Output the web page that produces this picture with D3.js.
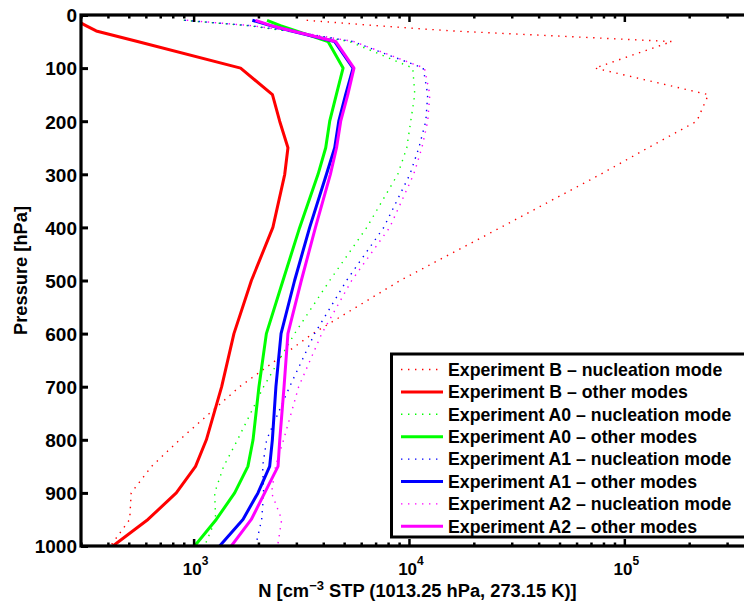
<!DOCTYPE html>
<html>
<head>
<meta charset="utf-8">
<script src="https://cdn.jsdelivr.net/npm/d3@7"></script>
<style>
  html, body { margin: 0; padding: 0; background: #fff; }
  svg { display: block; }
  text { font-family: "Liberation Sans", Arial, Helvetica, sans-serif; font-weight: bold; fill: #000; }
</style>
</head>
<body>
<svg id="chart" width="744" height="602"></svg>
<script>
// ---- data ----
const pressure = [10, 20, 30, 50, 100, 150, 200, 250, 300, 400, 500, 600, 700, 800, 850, 900, 950, 1000];

const bNucleation  = [3350, 7010, 15800, 166000, 73000, 245600, 217000, 129000, 77600, 26700, 9100, 3574, 1636, 861, 638, 513, 505, 411];
const bOther       = [284, 316, 353, 549, 1653, 2323, 2510, 2742, 2649, 2334, 1855, 1539, 1350, 1146, 1021, 831, 614, 422];
const a0Nucleation = [900, 1780, 2700, 5300, 10420, 10640, 10190, 9770, 8870, 6370, 4285, 2944, 2114, 1600, 1379, 1252, 1265, 1125];
const a0Other      = [2193, 2530, 2993, 4209, 4943, 4600, 4285, 4106, 3782, 3109, 2600, 2177, 2011, 1888, 1787, 1551, 1274, 1011];
const a1Nucleation = [908, 1820, 2790, 5480, 11640, 12220, 11970, 11120, 10100, 7640, 5130, 3645, 2792, 2183, 2092, 2114, 2070, 1941];
const a1Other      = [1874, 2275, 2851, 4520, 5500, 5080, 4721, 4520, 4138, 3459, 2944, 2547, 2411, 2321, 2255, 1990, 1695, 1321];
const a2Nucleation = [930, 1850, 2830, 5550, 11800, 12500, 12220, 11480, 10520, 8140, 5420, 3936, 3075, 2618, 2400, 2301, 2564, 2455];
const a2Other      = [1941, 2295, 2880, 4572, 5555, 5200, 4820, 4610, 4315, 3680, 3163, 2741, 2630, 2512, 2466, 2138, 1853, 1497];

const seriesNames = [
  "Experiment B \u2013 nucleation mode",
  "Experiment B \u2013 other modes",
  "Experiment A0 \u2013 nucleation mode",
  "Experiment A0 \u2013 other modes",
  "Experiment A1 \u2013 nucleation mode",
  "Experiment A1 \u2013 other modes",
  "Experiment A2 \u2013 nucleation mode",
  "Experiment A2 \u2013 other modes"
];
const seriesValues = [bNucleation, bOther, a0Nucleation, a0Other, a1Nucleation, a1Other, a2Nucleation, a2Other];
const seriesColors = ["#ff0000", "#ff0000", "#00ff00", "#00ff00", "#0000ff", "#0000ff", "#ff00ff", "#ff00ff"];
const seriesDotted = [true, false, true, false, true, false, true, false];

const yTicks = [0, 100, 200, 300, 400, 500, 600, 700, 800, 900, 1000];
const xMajorTicks = [1000, 10000, 100000];
const xTickExponents = ["3", "4", "5"];
const xDomain = [300, 400000];
const yDomain = [0, 1000];

// ---- layout ----
const svg = d3.select("#chart");
const mLeft = 81, mRight = 754, mTop = 15, mBottom = 546;

const x = d3.scaleLog().domain(xDomain).range([mLeft, mRight]);
const y = d3.scaleLinear().domain(yDomain).range([mTop, mBottom]);

// minor log ticks
const xMinor = [];
for (let d = 100; d <= 100000; d *= 10) {
  for (let k = 2; k <= 9; k++) {
    const v = d * k;
    if (v >= xDomain[0] && v <= xDomain[1]) xMinor.push(v);
  }
}

svg.append("defs").append("clipPath").attr("id", "plotclip")
  .append("rect").attr("x", mLeft).attr("y", mTop).attr("width", mRight - mLeft).attr("height", mBottom - mTop);

// ---- lines ----
const line = d3.line()
  .x(d => x(d[0]))
  .y(d => y(d[1]));

const plot = svg.append("g").attr("clip-path", "url(#plotclip)");
seriesValues.forEach((vals, i) => {
  const pts = vals.map((v, j) => [v, pressure[j]]);
  plot.append("path")
    .attr("d", line(pts))
    .attr("fill", "none")
    .attr("stroke", seriesColors[i])
    .attr("stroke-width", seriesDotted[i] ? 1.4 : 3)
    .attr("stroke-dasharray", seriesDotted[i] ? "1.4,5.6" : null)
    .attr("stroke-linejoin", "round");
});

// ---- axes ----
function styleAxis(g) {
  g.select(".domain").remove();
  g.selectAll(".tick line").attr("stroke", "#000").attr("stroke-width", 2.5);
  g.selectAll(".tick text").remove();
}

// bottom axis: major + minor ticks pointing inward
svg.append("g").attr("transform", `translate(0,${mBottom})`)
  .call(d3.axisBottom(x).tickValues(xMajorTicks).tickSizeInner(-7).tickSizeOuter(0).tickFormat(""))
  .call(styleAxis);
svg.append("g").attr("transform", `translate(0,${mBottom})`)
  .call(d3.axisBottom(x).tickValues(xMinor).tickSizeInner(-3.5).tickSizeOuter(0).tickFormat(""))
  .call(styleAxis);
// top axis
svg.append("g").attr("transform", `translate(0,${mTop})`)
  .call(d3.axisTop(x).tickValues(xMajorTicks).tickSizeInner(-7).tickSizeOuter(0).tickFormat(""))
  .call(styleAxis);
svg.append("g").attr("transform", `translate(0,${mTop})`)
  .call(d3.axisTop(x).tickValues(xMinor).tickSizeInner(-3.5).tickSizeOuter(0).tickFormat(""))
  .call(styleAxis);
// left axis
const yAxisG = svg.append("g").attr("transform", `translate(${mLeft},0)`)
  .call(d3.axisLeft(y).tickValues(yTicks).tickSizeInner(-7).tickSizeOuter(0).tickPadding(11).tickFormat(d3.format("d")));
yAxisG.select(".domain").remove();
yAxisG.selectAll(".tick line").attr("stroke", "#000").attr("stroke-width", 3);
yAxisG.selectAll(".tick text")
  .attr("x", -4)
  .attr("font-size", "19px")
  .attr("font-family", "'Liberation Sans', Arial, sans-serif")
  .attr("font-weight", "bold")
  .attr("fill", "#000")
  .attr("dy", "0.36em");

// frame
svg.append("rect")
  .attr("x", mLeft).attr("y", mTop)
  .attr("width", mRight - mLeft).attr("height", mBottom - mTop)
  .attr("fill", "none").attr("stroke", "#000").attr("stroke-width", 3.2);

// x tick labels 10^n
xMajorTicks.forEach((v, i) => {
  const t = svg.append("text")
    .attr("x", x(v) + 2).attr("y", 575)
    .attr("text-anchor", "middle")
    .attr("font-size", "17px");
  t.append("tspan").text("10");
  t.append("tspan").attr("dy", -10).attr("font-size", "12px").text(xTickExponents[i]);
});

// axis labels
const xl = svg.append("text")
  .attr("x", (mLeft + mRight) / 2).attr("y", 597)
  .attr("text-anchor", "middle")
  .attr("font-size", "18.3px");
xl.append("tspan").text("N [cm");
xl.append("tspan").attr("dy", -7).attr("font-size", "13px").text("\u22123");
xl.append("tspan").attr("dy", 7).text(" STP (1013.25 hPa, 273.15 K)]");

svg.append("text")
  .attr("transform", `translate(27,${(mTop + mBottom) / 2 - 10}) rotate(-90)`)
  .attr("text-anchor", "middle")
  .attr("font-size", "18.3px")
  .text("Pressure [hPa]");

// ---- legend ----
const lg = svg.append("g");
lg.append("rect")
  .attr("x", 391.5).attr("y", 354)
  .attr("width", 420).attr("height", 183)
  .attr("fill", "#fff").attr("stroke", "#000").attr("stroke-width", 3);
seriesNames.forEach((name, i) => {
  const cy = 369.5 + i * 22.4;
  lg.append("line")
    .attr("x1", 401).attr("x2", 443).attr("y1", cy).attr("y2", cy)
    .attr("stroke", seriesColors[i])
    .attr("stroke-width", seriesDotted[i] ? 1.4 : 3)
    .attr("stroke-dasharray", seriesDotted[i] ? "1.4,5.6" : null);
  lg.append("text")
    .attr("x", 448).attr("y", cy).attr("dy", "0.36em")
    .attr("font-size", "17.7px")
    .text(name);
});
</script>
</body>
</html>
